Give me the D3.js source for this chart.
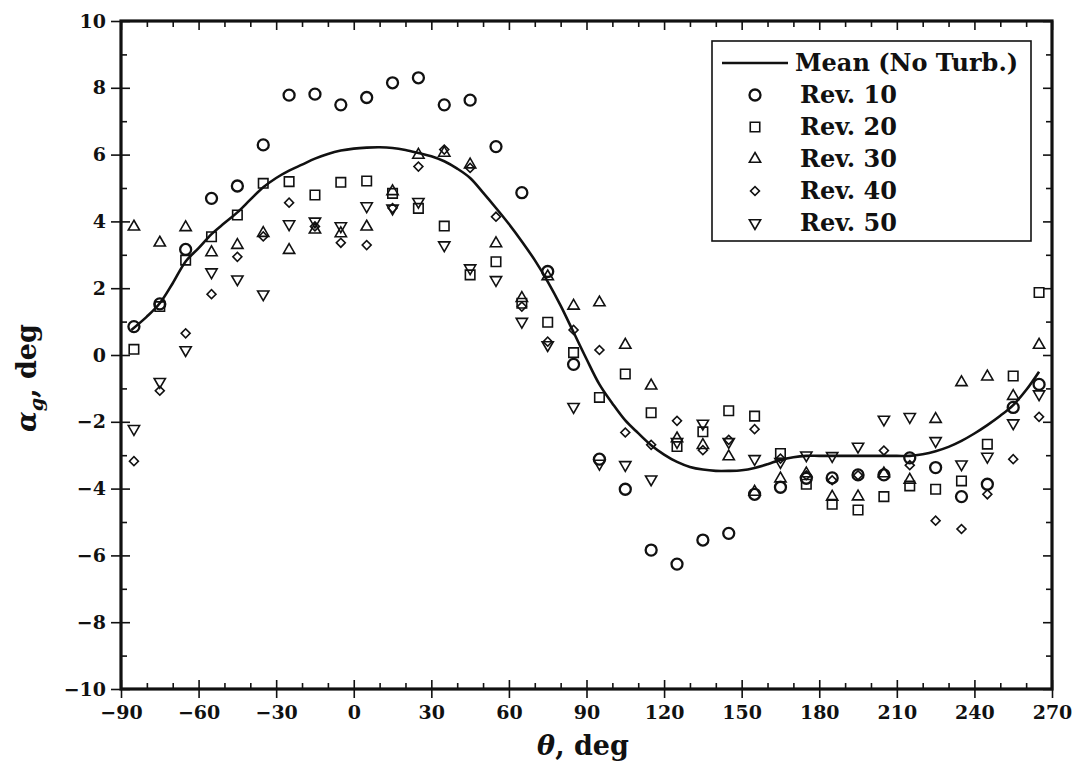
<!DOCTYPE html>
<html><head><meta charset="utf-8">
<script src="https://cdn.jsdelivr.net/npm/d3@7"></script>
<style>
body{margin:0;background:#fff}
text{font-family:"DejaVu Serif",serif;font-weight:bold;fill:#111}
</style>
</head><body>
<svg id="chart" width="1075" height="763"></svg>
<script>
// ---------------- data ----------------
const thetas = [-85,-75,-65,-55,-45,-35,-25,-15,-5,5,15,25,35,45,55,65,75,85,95,105,115,125,135,145,155,165,175,185,195,205,215,225,235,245,255,265];
const rev10 = [0.85,1.53,3.16,4.69,5.06,6.29,7.78,7.81,7.49,7.71,8.15,8.3,7.49,7.63,6.24,4.86,2.5,-0.28,-3.12,-4.02,-5.84,-6.26,-5.54,-5.34,-4.17,-3.96,-3.69,-3.68,-3.59,-3.59,-3.08,-3.37,-4.24,-3.87,-1.57,-0.88];
const rev20 = [0.17,1.45,2.84,3.54,4.19,5.14,5.19,4.79,5.17,5.21,4.84,4.39,3.86,2.4,2.79,1.55,0.98,0.07,-1.27,-0.57,-1.73,-2.74,-2.3,-1.67,-1.83,-2.95,-3.87,-4.47,-4.64,-4.24,-3.92,-4.02,-3.77,-2.67,-0.63,1.87];
const rev30 = [3.84,3.36,3.82,3.07,3.29,3.65,3.14,3.75,3.64,3.84,4.9,5.99,6.05,5.7,3.34,1.7,2.35,1.47,1.57,0.3,-0.92,-2.5,-2.7,-3.04,-4.1,-3.7,-3.55,-4.25,-4.24,-3.55,-3.74,-1.92,-0.82,-0.65,-1.23,0.3];
const rev40 = [-3.18,-1.07,0.65,1.82,2.94,3.55,4.56,3.85,3.36,3.29,4.4,5.64,6.15,5.6,4.14,1.45,0.4,0.75,0.15,-2.32,-2.69,-1.97,-2.85,-2.54,-2.22,-3.1,-3.6,-3.75,-3.6,-2.86,-3.3,-4.96,-5.21,-4.17,-3.12,-1.85];
const rev50 = [-2.21,-0.8,0.15,2.48,2.27,1.82,3.92,4.0,3.86,4.46,4.39,4.59,3.29,2.6,2.25,1.0,0.3,-1.55,-3.25,-3.29,-3.72,-2.6,-2.05,-2.6,-3.11,-3.2,-3.0,-3.02,-2.74,-1.93,-1.85,-2.57,-3.27,-3.04,-2.04,-1.17];
const meanTheta = [-86,-80,-75,-70,-65,-60,-55,-50,-45,-40,-35,-30,-25,-20,-15,-10,-5,0,5,10,15,20,25,30,35,40,45,50,55,60,65,70,75,80,85,90,95,100,105,110,115,120,125,130,135,140,145,150,155,160,165,170,175,180,190,200,210,215,220,225,230,235,240,245,250,255,260,265];
const meanAlpha = [0.75,1.15,1.55,2.15,2.8,3.2,3.62,3.95,4.27,4.65,5.02,5.3,5.52,5.7,5.88,6.02,6.12,6.18,6.21,6.22,6.2,6.14,6.05,5.95,5.8,5.58,5.3,4.86,4.4,3.92,3.4,2.84,2.2,1.48,0.68,-0.12,-0.88,-1.45,-1.96,-2.34,-2.7,-2.98,-3.2,-3.35,-3.43,-3.47,-3.47,-3.45,-3.38,-3.27,-3.14,-3.06,-3.02,-3.02,-3.02,-3.02,-3.02,-3.02,-2.97,-2.88,-2.75,-2.57,-2.35,-2.1,-1.82,-1.5,-1.05,-0.5];
const xTicks = [-90,-60,-30,0,30,60,90,120,150,180,210,240,270];
const xMinor = d3.range(-80,270,10).filter(v=>v%30!==0);
const yTicks = [-10,-8,-6,-4,-2,0,2,4,6,8,10];
const yMinor = [-9,-7,-5,-3,-1,1,3,5,7,9];
const seriesNames = ["Rev. 10","Rev. 20","Rev. 30","Rev. 40","Rev. 50"];
const meanName = "Mean (No Turb.)";

// ---------------- layout ----------------
const L=121, R=1052, T=21, B=689;
const svg = d3.select("#chart");
const x = d3.scaleLinear().domain([-90,270]).range([L,R]);
const y = d3.scaleLinear().domain([-10,10]).range([B,T]);

function styleAxis(g){ g.select(".domain").remove(); g.selectAll("line").attr("stroke","#111").attr("stroke-width",1.6); }
function styleText(g){ g.selectAll("text").attr("font-size",19).attr("font-family","DejaVu Serif").attr("font-weight","bold").attr("fill","#111"); }
svg.append("g").attr("transform",`translate(0,${B})`)
  .call(d3.axisBottom(x).tickValues(xTicks).tickSize(9).tickPadding(8).tickFormat(d3.format("d")))
  .call(styleAxis).call(styleText);
svg.append("g").attr("transform",`translate(0,${B})`).call(d3.axisTop(x).tickValues(xTicks).tickSize(9).tickFormat("")).call(styleAxis);
svg.append("g").attr("transform",`translate(0,${B})`).call(d3.axisTop(x).tickValues(xMinor).tickSize(6).tickFormat("")).call(styleAxis);
svg.append("g").attr("transform",`translate(0,${T})`).call(d3.axisBottom(x).tickValues(xTicks).tickSize(9).tickFormat("")).call(styleAxis);
svg.append("g").attr("transform",`translate(0,${T})`).call(d3.axisBottom(x).tickValues(xMinor).tickSize(6).tickFormat("")).call(styleAxis);

svg.append("g").attr("transform",`translate(${L},0)`)
  .call(d3.axisLeft(y).tickValues(yTicks).tickSize(10).tickPadding(5).tickFormat(d3.format("d")))
  .call(styleAxis).call(styleText);
svg.append("g").attr("transform",`translate(${L},0)`).call(d3.axisRight(y).tickValues(yTicks).tickSize(9).tickFormat("")).call(styleAxis);
svg.append("g").attr("transform",`translate(${L},0)`).call(d3.axisRight(y).tickValues(yMinor).tickSize(6).tickFormat("")).call(styleAxis);
svg.append("g").attr("transform",`translate(${R},0)`).call(d3.axisLeft(y).tickValues(yTicks).tickSize(9).tickFormat("")).call(styleAxis);
svg.append("g").attr("transform",`translate(${R},0)`).call(d3.axisLeft(y).tickValues(yMinor).tickSize(6).tickFormat("")).call(styleAxis);

svg.append("rect").attr("x",L).attr("y",T).attr("width",R-L).attr("height",B-T)
  .attr("fill","none").attr("stroke","#111").attr("stroke-width",3.2);

// axis titles
const xt = svg.append("text").attr("x",583).attr("y",755).attr("text-anchor","middle").attr("font-size",27);
xt.append("tspan").attr("font-style","italic").text("θ");
xt.append("tspan").text(", deg");
const yt = svg.append("text").attr("transform","translate(36,378) rotate(-90)").attr("text-anchor","middle").attr("font-size",27);
yt.append("tspan").attr("font-style","italic").text("α");
yt.append("tspan").attr("font-style","italic").attr("font-size",19).attr("dy",7).text("g");
yt.append("tspan").attr("dy",-7).text(", deg");

// mean line
const meanData = meanTheta.map((t,i)=>[t,meanAlpha[i]]);
svg.append("path").datum(meanData)
  .attr("d",d3.line().x(d=>x(d[0])).y(d=>y(d[1])).curve(d3.curveCatmullRom))
  .attr("fill","none").attr("stroke","#111").attr("stroke-width",2.6);

// markers
const sym = [
  {type:d3.symbolCircle,size:95,rot:0,sw:2.3},
  {type:d3.symbolSquare,size:90,rot:0,sw:1.6},
  {type:d3.symbolTriangle,size:55,rot:0,sw:1.6},
  {type:d3.symbolSquare,size:40,rot:45,sw:1.6},
  {type:d3.symbolTriangle,size:55,rot:180,sw:1.6}
];
const allSeries = [rev10,rev20,rev30,rev40,rev50];
allSeries.forEach((vals,si)=>{
  const s = sym[si];
  svg.append("g").selectAll("path").data(thetas.map((t,i)=>[t,vals[i]])).join("path")
    .attr("d",d3.symbol().type(s.type).size(s.size)())
    .attr("transform",d=>`translate(${x(d[0])},${y(d[1])}) rotate(${s.rot})`)
    .attr("fill","none").attr("stroke","#111").attr("stroke-width",s.sw);
});

// legend
const lg = svg.append("g");
lg.append("rect").attr("x",712).attr("y",41).attr("width",319).attr("height",200)
  .attr("fill","#fff").attr("stroke","#111").attr("stroke-width",1.6);
const rowY = i => 63 + i*32;
lg.append("line").attr("x1",722).attr("x2",788).attr("y1",rowY(0)).attr("y2",rowY(0)).attr("stroke","#111").attr("stroke-width",2.6);
lg.append("text").attr("x",795).attr("y",rowY(0)+8).attr("font-size",24).text(meanName);
seriesNames.forEach((n,i)=>{
  const s = sym[i];
  lg.append("path").attr("d",d3.symbol().type(s.type).size(s.size)())
    .attr("transform",`translate(755,${rowY(i+1)}) rotate(${s.rot})`)
    .attr("fill","none").attr("stroke","#111").attr("stroke-width",s.sw);
  lg.append("text").attr("x",800).attr("y",rowY(i+1)+8).attr("font-size",24).text(n);
});
</script>
</body></html>
